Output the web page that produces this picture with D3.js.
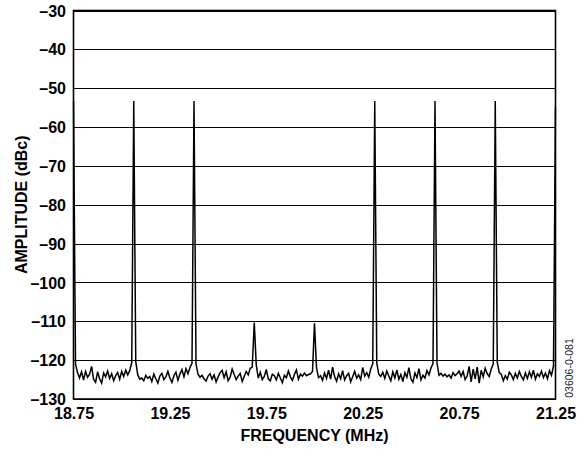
<!DOCTYPE html>
<html>
<head>
<meta charset="utf-8">
<script src="https://cdn.jsdelivr.net/npm/d3@7"></script>
<style>
  html, body { margin: 0; padding: 0; background: #fff; }
  svg { display: block; }
</style>
</head>
<body>
<script>
// ---------- DATA ----------
const freqStart = 18.75;           // MHz
const freqEnd = 21.25;             // MHz
const xTickValues = [18.75, 19.25, 19.75, 20.25, 20.75, 21.25];
const xTickLabels = ["18.75", "19.25", "19.75", "20.25", "20.75", "21.25"];
const yTickValues = [-30, -40, -50, -60, -70, -80, -90, -100, -110, -120, -130];
const yTickLabels = ["\u201330", "\u201340", "\u201350", "\u201360", "\u201370", "\u201380", "\u201390", "\u2013100", "\u2013110", "\u2013120", "\u2013130"];

// tones (frequency in MHz, peak level in dBc)
const toneFreqs  = [18.75, 19.0625, 19.375, 19.6875, 20.0, 20.3125, 20.625, 20.9375, 21.25];
const toneLevels = [-53.3, -53.3, -53.3, -110.3, -110.5, -53.3, -53.3, -53.3, -54.8];

// noise floor samples (dBc), 241 evenly spaced bins from 18.75 to 21.25 MHz
const noiseFloor = [
  -123.5, -121.0, -123.2, -124.6, -123.0, -125.1, -122.9, -124.4, -123.6, -121.6, -124.9, -125.7, -123.0, -124.8, -125.9, -123.3, -124.3, -122.8, -124.7, -123.5, -125.3, -124.0, -123.2, -124.9, -122.9, -124.2, -122.6, -123.8, -122.7, -120.6,
  -124.0, -120.4, -123.8, -124.9, -124.6, -125.3, -123.9, -124.7, -124.2, -125.5, -123.6, -124.8, -125.9, -124.1, -123.4, -125.0, -124.3, -122.9, -124.6, -125.7, -124.0, -123.1, -125.2, -123.6, -122.4, -124.3, -122.2, -123.5, -121.9, -120.8,
  -124.0, -121.0, -123.6, -124.4, -123.9, -124.8, -125.4, -124.1, -123.5, -124.9, -123.8, -125.6, -124.3, -123.2, -122.6, -124.5, -123.0, -125.3, -124.4, -122.3, -123.7, -125.0, -124.1, -123.4, -125.5, -124.2, -122.9, -123.8, -122.1, -121.8,
  -123.5, -121.2, -124.6, -123.1, -125.0, -124.2, -122.4, -124.8, -125.3, -123.6, -124.0, -125.1, -123.4, -124.6, -125.8, -123.9, -124.5, -122.8, -124.3, -125.2, -123.7, -122.5, -124.9, -123.6, -124.1, -123.3, -124.0, -123.7, -123.5, -122.9,
  -123.0, -122.0, -124.5, -124.0, -125.2, -123.3, -124.7, -122.6, -124.9, -121.8, -124.2, -125.4, -123.5, -124.8, -122.7, -125.1, -124.0, -123.4, -125.6, -124.3, -122.9, -124.6, -123.8, -125.0, -121.9, -124.1, -123.2, -124.4, -122.3, -120.9,
  -124.0, -120.7, -123.6, -124.2, -123.1, -124.7, -122.8, -124.1, -125.3, -123.0, -124.6, -122.5, -124.9, -123.7, -125.5, -123.2, -124.4, -121.9, -124.8, -125.7, -123.3, -124.5, -122.2, -125.1, -123.9, -124.6, -122.7, -123.8, -122.0, -120.9,
  -124.0, -120.8, -123.9, -123.4, -124.1, -123.6, -124.3, -123.8, -124.6, -123.2, -124.0, -123.5, -122.8, -124.2, -122.9, -125.0, -124.1, -121.6, -125.6, -122.3, -124.8, -121.8, -125.9, -122.6, -124.3, -122.1, -123.5, -124.2, -122.3, -121.0,
  -124.0, -120.6, -123.2, -123.6, -125.3, -124.0, -124.9, -123.1, -123.8, -125.0, -123.4, -124.6, -122.9, -124.2, -125.1, -123.3, -124.7, -123.0, -124.4, -122.6, -124.9, -123.5, -124.2, -122.8, -124.5, -123.3, -124.8, -122.7, -123.9, -121.5,
  -124.0
];

// ---------- CHART ----------
const W = 588, H = 449;
const L = 73.5, R = 555.5, T = 10.5, B = 399;
const FS = 16;

const svg = d3.select("body").append("svg")
  .attr("width", W).attr("height", H)
  .attr("font-family", "'Liberation Sans', Arial, Helvetica, sans-serif");

const x = d3.scaleLinear().domain([freqStart, freqEnd]).range([L, R]);
const y = d3.scaleLinear().domain([-130, -30]).range([B, T]);

// build the series: noise bins, with tone bins replaced by tone peaks
const nBins = noiseFloor.length;
const binStep = (freqEnd - freqStart) / (nBins - 1);
const series = noiseFloor.map((v, i) => {
  const f = freqStart + i * binStep;
  let a = v;
  toneFreqs.forEach((tf, k) => { if (Math.abs(tf - f) < binStep / 2) a = toneLevels[k]; });
  return { f, a };
});

// y axis with gridlines
const yAxis = d3.axisLeft(y)
  .tickValues(yTickValues)
  .tickFormat((d, i) => yTickLabels[i])
  .tickSize(-(R - L))
  .tickPadding(7.5);

const gy = svg.append("g").attr("transform", `translate(${L},0)`).call(yAxis);
gy.select(".domain").remove();
gy.selectAll(".tick line").attr("stroke", "#000").attr("stroke-width", 1)
  .attr("shape-rendering", "crispEdges");
gy.selectAll(".tick text")
  .attr("font-size", FS).attr("font-weight", "bold").attr("fill", "#000")
  .attr("dy", "0.35em");

// x axis labels
const xAxis = d3.axisBottom(x)
  .tickValues(xTickValues)
  .tickFormat((d, i) => xTickLabels[i])
  .tickSize(0)
  .tickPadding(8.5);
const gx = svg.append("g").attr("transform", `translate(0,${B})`).call(xAxis);
gx.select(".domain").remove();
gx.selectAll(".tick text")
  .attr("font-size", FS).attr("font-weight", "bold").attr("fill", "#000");

// data line
svg.append("clipPath").attr("id", "clip")
  .append("rect").attr("x", L - 1).attr("y", T).attr("width", R - L + 2).attr("height", B - T);

svg.append("path")
  .datum(series)
  .attr("clip-path", "url(#clip)")
  .attr("fill", "none")
  .attr("stroke", "#000")
  .attr("stroke-width", 1.5)
  .attr("stroke-linejoin", "miter")
  .attr("d", d3.line().x(d => x(d.f)).y(d => y(d.a)));

// plot border
svg.append("rect")
  .attr("x", L).attr("y", T).attr("width", R - L).attr("height", B - T)
  .attr("fill", "none").attr("stroke", "#000").attr("stroke-width", 1.6);

// axis titles
svg.append("text")
  .attr("x", (L + R) / 2).attr("y", 441)
  .attr("text-anchor", "middle")
  .attr("font-size", FS).attr("font-weight", "bold")
  .text("FREQUENCY (MHz)");

svg.append("text")
  .attr("transform", `translate(27,${(T + B) / 2}) rotate(-90)`)
  .attr("text-anchor", "middle")
  .attr("font-size", FS).attr("font-weight", "bold")
  .text("AMPLITUDE (dBc)");

// figure code
svg.append("text")
  .attr("transform", `translate(573,368) rotate(-90)`)
  .attr("text-anchor", "middle")
  .attr("font-size", 10.5).attr("fill", "#222")
  .text("03606-0-081");
</script>
</body>
</html>
